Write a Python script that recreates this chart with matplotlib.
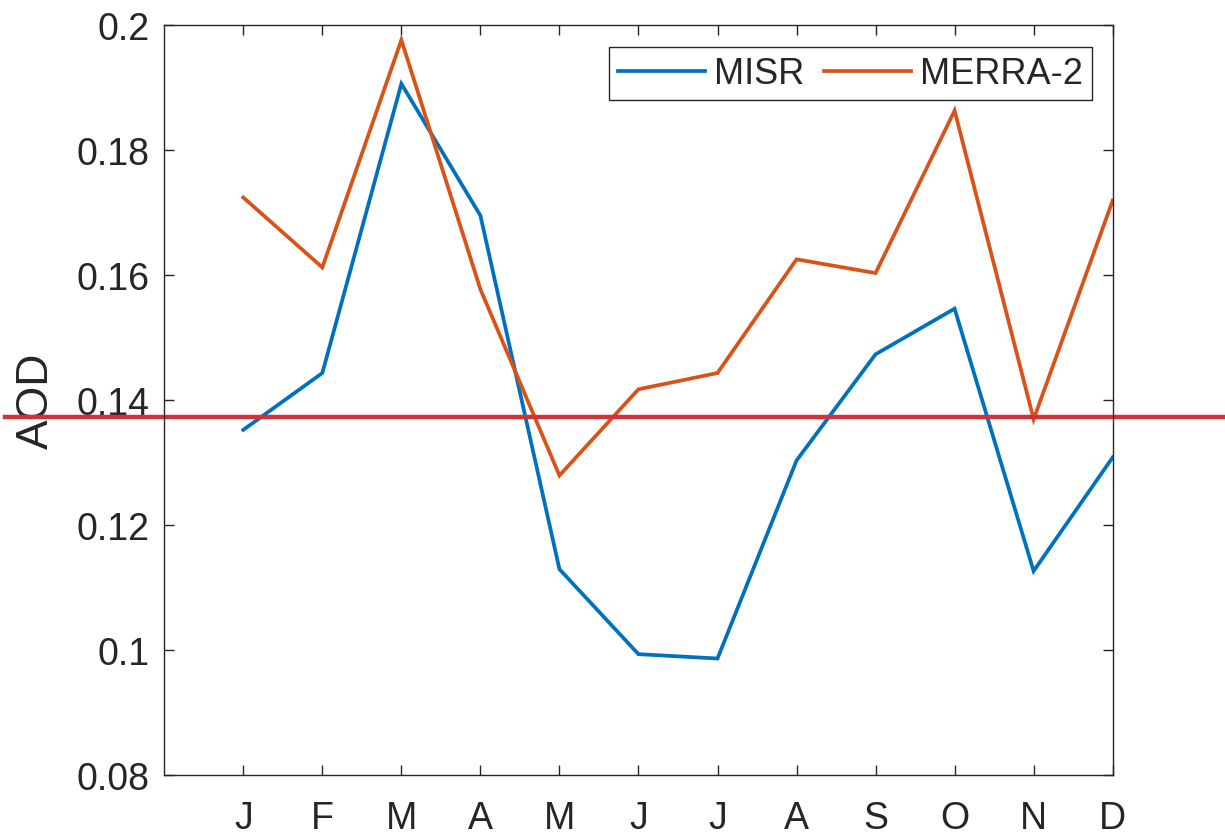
import matplotlib
matplotlib.use("Agg")
import matplotlib.pyplot as plt

months = ["J", "F", "M", "A", "M", "J", "J", "A", "S", "O", "N", "D"]
misr = [0.1352, 0.1443, 0.1906, 0.1695, 0.1129, 0.0993, 0.0986, 0.1303, 0.1473, 0.1546, 0.1126, 0.1308]
merra2 = [0.1724, 0.1612, 0.1976, 0.1577, 0.1279, 0.1417, 0.1443, 0.1625, 0.1603, 0.1863, 0.1369, 0.1719]
ref_level = 0.1372

plt.rcParams["font.family"] = ["Liberation Sans", "DejaVu Sans"]
text_color = "#262626"

fig = plt.figure(figsize=(12.25, 8.37), dpi=100)
ax = fig.add_axes([0.1341, 0.0732, 0.7742, 0.8957])

x = list(range(1, len(months) + 1))
ax.plot(x, misr, color="#0072BD", lw=2.7, label="MISR", solid_joinstyle="miter")
ax.plot(x, merra2, color="#D95319", lw=2.7, label="MERRA-2", solid_joinstyle="miter")

ax.set_xlim(0, 12)
ax.set_ylim(0.08, 0.2)
ax.set_xticks(x)
ax.set_xticklabels(months)
ax.set_yticks([0.08, 0.10, 0.12, 0.14, 0.16, 0.18, 0.20])
ax.set_yticklabels(["0.08", "0.1", "0.12", "0.14", "0.16", "0.18", "0.2"])

for side in ax.spines.values():
    side.set_color(text_color)
    side.set_linewidth(1.0)
ax.tick_params(direction="in", length=7, width=1.0, colors=text_color,
               labelsize=27, top=True, right=True)
ax.tick_params(axis="x", pad=18)
ax.tick_params(axis="y", pad=10.5)

ax.set_ylabel("AOD", fontsize=32, color=text_color)
ax.yaxis.set_label_coords(-0.113, 0.5)

leg = ax.legend(loc="upper right", bbox_to_anchor=(0.978, 0.9703), ncol=2,
                fontsize=26, frameon=True, fancybox=False, borderaxespad=0,
                handlelength=2.4, handletextpad=0.25, columnspacing=0.55,
                borderpad=0.25, labelcolor=text_color)
leg.get_frame().set_edgecolor(text_color)
leg.get_frame().set_linewidth(1.0)
leg.get_frame().set_alpha(1)

# reference level drawn across the whole figure width
ax.axhline(ref_level, xmin=-0.168, xmax=1.12, color="#D13239", lw=3.2, clip_on=False)

fig.savefig("out.png", dpi=100)
